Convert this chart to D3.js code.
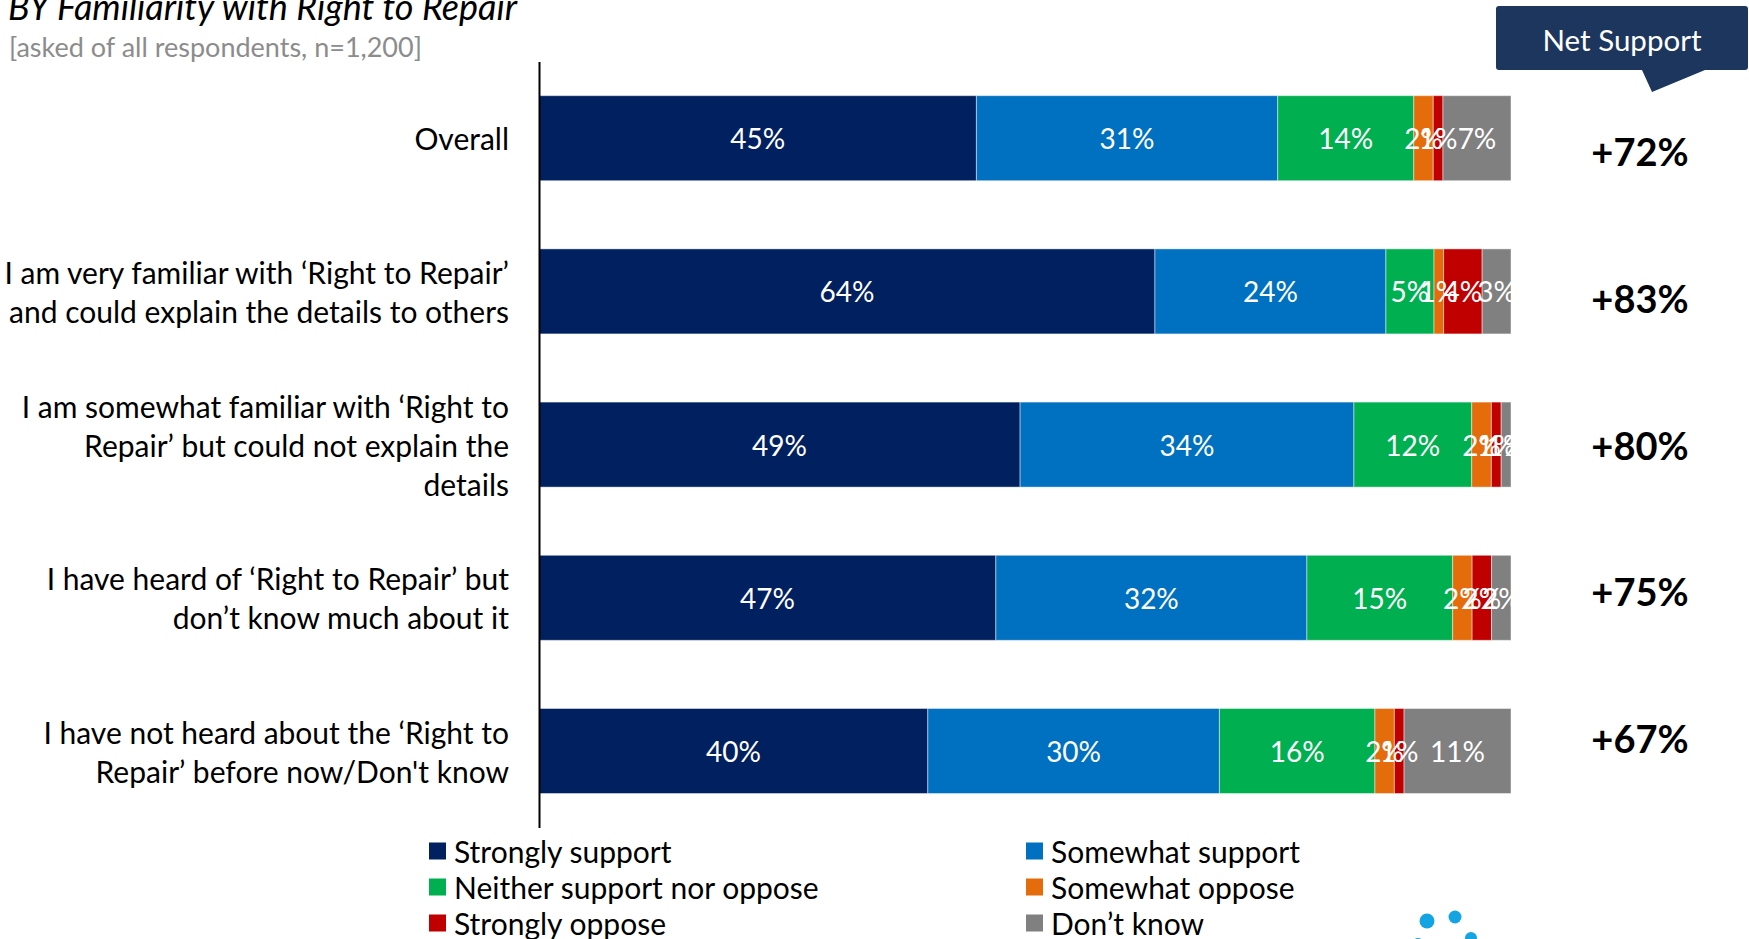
<!DOCTYPE html>
<html>
<head>
<meta charset="utf-8">
<script src="https://cdn.jsdelivr.net/npm/d3@7"></script>
<style>
  html, body { margin: 0; padding: 0; background: #ffffff; }
  svg { display: block; font-family: Lato, "Open Sans", sans-serif; }
</style>
</head>
<body>
<svg id="chart" width="1749" height="939"></svg>
<script>
// Survey groups (each entry is the list of wrapped lines for one row label)
const categoryLines = [
  ["Overall"],
  ["I am very familiar with \u2018Right to Repair\u2019", "and could explain the details to others"],
  ["I am somewhat familiar with \u2018Right to", "Repair\u2019 but could not explain the", "details"],
  ["I have heard of \u2018Right to Repair\u2019 but", "don\u2019t know much about it"],
  ["I have not heard about the \u2018Right to", "Repair\u2019 before now/Don't know"]
];

const seriesNames = [
  "Strongly support",
  "Somewhat support",
  "Neither support nor oppose",
  "Somewhat oppose",
  "Strongly oppose",
  "Don\u2019t know"
];

// Percent of respondents per group
const stronglySupport = [45, 64, 49, 47, 40];
const somewhatSupport = [31, 24, 34, 32, 30];
const neitherSupportNorOppose = [14, 5, 12, 15, 16];
const somewhatOppose = [2, 1, 2, 2, 2];
const stronglyOppose = [1, 4, 1, 2, 1];
const dontKnow = [7, 3, 1, 2, 11];

// Net support (support minus oppose)
const netSupport = [72, 83, 80, 75, 67];

const seriesColors = ["#002060", "#0070C0", "#00B050", "#E46C0A", "#C00000", "#808080"];

const seriesValues = [stronglySupport, somewhatSupport, neitherSupportNorOppose,
                      somewhatOppose, stronglyOppose, dontKnow];

const rows = categoryLines.map((lines, i) => {
  const r = { key: i };
  seriesNames.forEach((s, j) => { r[s] = seriesValues[j][i]; });
  return r;
});

const svg = d3.select("#chart");

const x = d3.scaleLinear().domain([0, 1]).range([539, 1511]);
const y = d3.scaleBand()
  .domain(d3.range(categoryLines.length))
  .range([61.6, 827.6])
  .paddingInner(0.445)
  .paddingOuter(0.2225);

const color = d3.scaleOrdinal().domain(seriesNames).range(seriesColors);

// 100% stacked layout
const stacked = d3.stack()
  .keys(seriesNames)
  .offset(d3.stackOffsetExpand)(rows);

// Title and subtitle
svg.append("text")
  .attr("x", 8).attr("y", 20)
  .attr("font-size", 36).attr("font-style", "italic")
  .attr("fill", "#000")
  .text("BY Familiarity with Right to Repair");

svg.append("text")
  .attr("x", 9).attr("y", 57)
  .attr("font-size", 27)
  .attr("fill", "#8c8c8c")
  .text("[asked of all respondents, n=1,200]");

// Bars
const layer = svg.append("g").selectAll("g")
  .data(stacked)
  .join("g")
  .attr("fill", d => color(d.key));

layer.selectAll("rect")
  .data(d => d)
  .join("rect")
  .attr("x", d => x(d[0]))
  .attr("y", d => y(d.data.key))
  .attr("width", d => x(d[1]) - x(d[0]))
  .attr("height", y.bandwidth())
  .attr("stroke", "rgba(255,255,255,0.45)")
  .attr("stroke-width", 1);

// Value labels, centred in each segment
const labelLayer = svg.append("g").selectAll("g")
  .data(stacked)
  .join("g");

labelLayer.selectAll("text")
  .data(d => d.map(p => ({ p, key: d.key })))
  .join("text")
  .attr("x", d => (x(d.p[0]) + x(d.p[1])) / 2)
  .attr("y", d => y(d.p.data.key) + y.bandwidth() / 2)
  .attr("text-anchor", "middle")
  .attr("dominant-baseline", "central")
  .attr("font-size", 28)
  .attr("fill", "#ffffff")
  .text(d => d.p.data[d.key] + "%");

// Category axis (domain line only, labels drawn as wrapped text)
const yAxis = d3.axisLeft(y).tickSize(0).tickFormat("");
svg.append("g")
  .attr("transform", "translate(539,0)")
  .call(yAxis)
  .call(g => g.select(".domain").attr("stroke", "#000").attr("stroke-width", 2));

const lineH = 39;
const catLabels = svg.append("g").selectAll("text")
  .data(categoryLines)
  .join("text")
  .attr("text-anchor", "end")
  .attr("font-size", 30)
  .attr("fill", "#000");

catLabels.each(function (lines, i) {
  const cy = y(i) + y.bandwidth() / 2;
  const start = cy - (lines.length - 1) * lineH / 2;
  d3.select(this).selectAll("tspan")
    .data(lines)
    .join("tspan")
    .attr("x", 509)
    .attr("y", (d, k) => start + k * lineH)
    .attr("dominant-baseline", "central")
    .text(d => d);
});

// Net support callout
const callout = svg.append("g");
callout.append("path")
  .attr("d", "M1496,9 Q1496,6 1499,6 L1745,6 Q1748,6 1748,9 L1748,67 Q1748,70 1745,70 L1705,70 L1652,92 L1642,70 L1499,70 Q1496,70 1496,67 Z")
  .attr("fill", "#1c365e");
callout.append("text")
  .attr("x", 1622).attr("y", 39)
  .attr("text-anchor", "middle")
  .attr("dominant-baseline", "central")
  .attr("font-size", 29.5)
  .attr("fill", "#ffffff")
  .text("Net Support");

const yNet = d3.scalePoint()
  .domain(d3.range(netSupport.length))
  .range([150.6, 738.4]);

svg.append("g").selectAll("text")
  .data(netSupport)
  .join("text")
  .attr("x", 1640)
  .attr("y", (d, i) => yNet(i))
  .attr("text-anchor", "middle")
  .attr("dominant-baseline", "central")
  .attr("font-size", 38)
  .attr("font-weight", "bold")
  .attr("fill", "#000")
  .text(d => (d > 0 ? "+" : "") + d + "%");

// Legend, two columns
const legend = svg.append("g").selectAll("g")
  .data(seriesNames)
  .join("g")
  .attr("transform", (d, i) => `translate(${i % 2 === 0 ? 429 : 1026},${851 + Math.floor(i / 2) * 36})`);

legend.append("rect")
  .attr("x", 0).attr("y", -8.5)
  .attr("width", 17).attr("height", 17)
  .attr("fill", d => color(d));

legend.append("text")
  .attr("x", 25).attr("y", 0)
  .attr("dominant-baseline", "central")
  .attr("font-size", 30)
  .attr("fill", "#000")
  .text(d => d);

// Logo dots
const dots = [[1427, 921, 7.5], [1455, 917, 6.5], [1471, 938, 6], [1418, 944, 6]];
svg.append("g").selectAll("circle")
  .data(dots)
  .join("circle")
  .attr("cx", d => d[0]).attr("cy", d => d[1]).attr("r", d => d[2])
  .attr("fill", "#15a4e2");
</script>
</body>
</html>
